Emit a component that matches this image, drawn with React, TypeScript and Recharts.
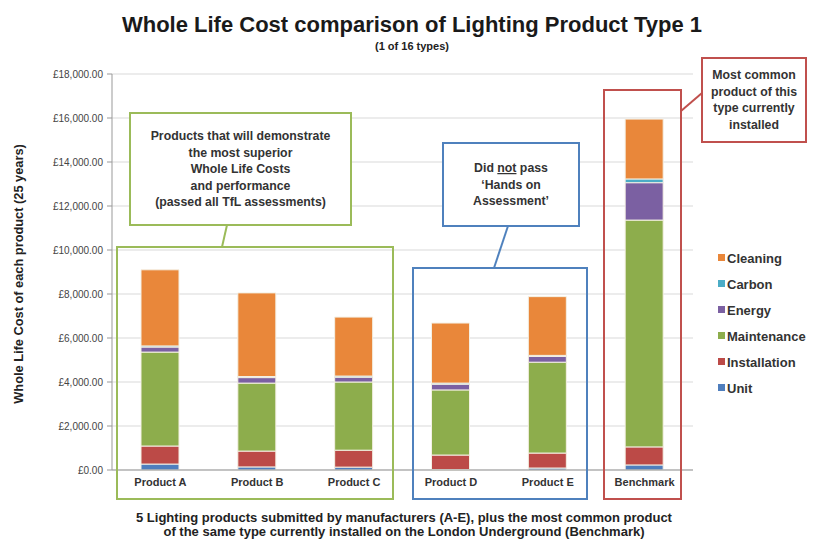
import React from 'react';
import { BarChart, Bar, XAxis, YAxis, CartesianGrid } from 'recharts';

const categories = ['Product A', 'Product B', 'Product C', 'Product D', 'Product E', 'Benchmark'];
const unit = [270, 140, 130, 20, 90, 230];
const installation = [820, 720, 770, 660, 680, 820];
const maintenance = [4270, 3090, 3100, 2960, 4130, 10310];
const energy = [230, 250, 220, 260, 260, 1700];
const carbon = [50, 50, 50, 50, 50, 170];
const cleaning = [3460, 3800, 2680, 2730, 2670, 2720];
const yTicks = [0, 2000, 4000, 6000, 8000, 10000, 12000, 14000, 16000, 18000];

const seriesNames = ['Unit', 'Installation', 'Maintenance', 'Energy', 'Carbon', 'Cleaning'];
const seriesColors = ['#4F7EBD', '#BC4A47', '#8DAD4C', '#7B60A2', '#4BACC6', '#E9873A'];
const seriesValues = [unit, installation, maintenance, energy, carbon, cleaning];

const data = categories.map((name, i) => {
  const row: Record<string, string | number> = { name };
  seriesNames.forEach((s, k) => {
    row[s] = seriesValues[k][i];
  });
  return row;
});

const FONT = 'Arial, "Liberation Sans", sans-serif';

const fmt = (v: number) =>
  '£' + v.toLocaleString('en-GB', { minimumFractionDigits: 2, maximumFractionDigits: 2 });

const Callout = ({ x, y, w, h, color, lines, lx1, ly1, lx2, ly2 }: any) => (
  <g>
    <line x1={lx1} y1={ly1} x2={lx2} y2={ly2} stroke={color} strokeWidth={2} />
    <rect x={x} y={y} width={w} height={h} fill="#fff" stroke={color} strokeWidth={2} />
    {lines.map((t: any, i: number) => (
      <text
        key={i}
        x={x + w / 2}
        y={y + h / 2 - ((lines.length - 1) * 16.5) / 2 + i * 16.5 + 4}
        textAnchor="middle"
        fontSize={12.3}
        fontWeight="bold"
        fill="#333"
        fontFamily={FONT}
      >
        {t}
      </text>
    ))}
  </g>
);

export default function App() {
  const legendItems = seriesNames.map((n, k) => ({ n, c: seriesColors[k] })).reverse();
  return (
    <div style={{ position: 'absolute', left: 0, top: 0, width: 816, height: 540, background: '#fff', fontFamily: FONT }}>
      <BarChart
        width={816}
        height={540}
        data={data}
        margin={{ top: 74, right: 123, bottom: 40, left: 0 }}
        barSize={38}
      >
        <CartesianGrid vertical={false} stroke="#d9d9d9" />
        <XAxis
          dataKey="name"
          height={30}
          interval={0}
          tickLine={false}
          axisLine={{ stroke: '#999' }}
          tick={{ fontSize: 11, fontWeight: 'bold', fill: '#333', fontFamily: FONT }}
        />
        <YAxis
          width={112}
          domain={[0, 18000]}
          ticks={yTicks}
          tickFormatter={fmt}
          tickSize={5}
          tickMargin={4}
          axisLine={{ stroke: '#999' }}
          tickLine={{ stroke: '#999' }}
          tick={{ fontSize: 10, fill: '#444', fontFamily: FONT }}
        />
        {seriesNames.map((s, k) => (
          <Bar
            key={s}
            dataKey={s}
            stackId="a"
            fill={seriesColors[k]}
            stroke="#f4f0e4"
            strokeWidth={1}
            isAnimationActive={false}
          />
        ))}
      </BarChart>
      <svg
        width={816}
        height={540}
        style={{ position: 'absolute', left: 0, top: 0, pointerEvents: 'none' }}
      >
        <text x={412} y={32} textAnchor="middle" fontSize={22} fontWeight="bold" fill="#1a1a1a" fontFamily={FONT}>
          Whole Life Cost comparison of Lighting Product Type 1
        </text>
        <text x={412} y={50} textAnchor="middle" fontSize={11} fontWeight="bold" fill="#222" fontFamily={FONT}>
          (1 of 16 types)
        </text>
        <text
          transform="translate(23,274) rotate(-90)"
          textAnchor="middle"
          fontSize={12.8}
          fontWeight="bold"
          fill="#222"
          fontFamily={FONT}
        >
          Whole Life Cost of each product (25 years)
        </text>
        <text x={404} y={522} textAnchor="middle" fontSize={13} fontWeight="bold" fill="#222" fontFamily={FONT}>
          5 Lighting products submitted by manufacturers (A-E), plus the most common product
        </text>
        <text x={404} y={536} textAnchor="middle" fontSize={13} fontWeight="bold" fill="#222" fontFamily={FONT}>
          of the same type currently installed on the London Underground (Benchmark)
        </text>

        {legendItems.map((it, i) => (
          <g key={it.n}>
            <rect x={718} y={254 + i * 26} width={7} height={7} fill={it.c} />
            <text x={727} y={263 + i * 26} fontSize={13} fontWeight="bold" fill="#333" fontFamily={FONT}>
              {it.n}
            </text>
          </g>
        ))}

        <rect x={117} y={247} width={276} height={252} fill="none" stroke="#9BBB59" strokeWidth={2} />
        <rect x={413} y={268} width={174} height={231} fill="none" stroke="#4F81BD" strokeWidth={2} />
        <rect x={604} y={90} width={77} height={409} fill="none" stroke="#C0504D" strokeWidth={2} />

        <Callout
          x={130}
          y={113}
          w={221}
          h={112}
          color="#9BBB59"
          lines={[
            'Products that will demonstrate',
            'the most superior',
            'Whole Life Costs',
            'and performance',
            '(passed all TfL assessments)',
          ]}
          lx1={227}
          ly1={225}
          lx2={222}
          ly2={247}
        />
        <Callout
          x={443}
          y={143}
          w={136}
          h={83}
          color="#4F81BD"
          lines={[
            <tspan key="a">
              Did <tspan textDecoration="underline">not</tspan> pass
            </tspan>,
            '‘Hands on',
            'Assessment’',
          ]}
          lx1={508}
          ly1={226}
          lx2={494}
          ly2={268}
        />
        <Callout
          x={702}
          y={58}
          w={104}
          h={84}
          color="#C0504D"
          lines={['Most common', 'product of this', 'type currently', 'installed']}
          lx1={702}
          ly1={93}
          lx2={681}
          ly2={111}
        />
      </svg>
    </div>
  );
}
